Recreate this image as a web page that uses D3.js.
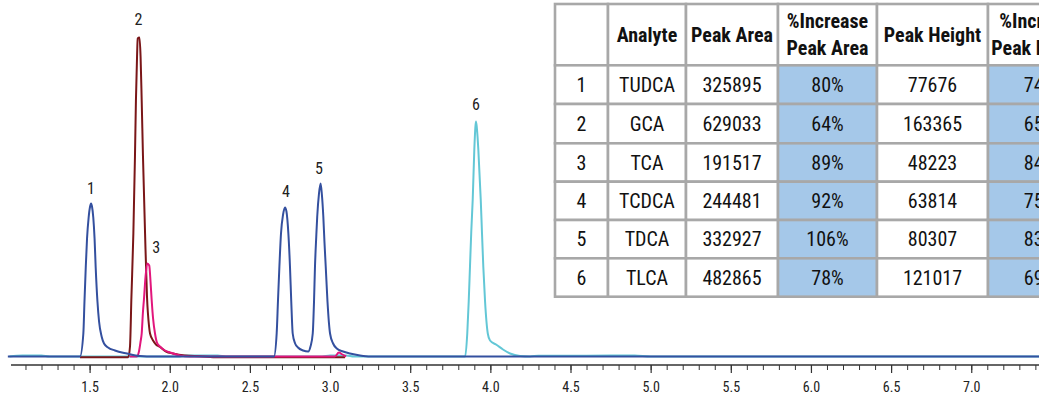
<!DOCTYPE html>
<html><head><meta charset="utf-8">
<script src="https://cdn.jsdelivr.net/npm/d3@7"></script>
<style>
html,body{margin:0;padding:0;background:#fff;overflow:hidden}
svg{display:block}
</style></head>
<body><svg id="c" width="1039" height="395"></svg>
<script>
// ---- chromatogram traces: [retention time (min), intensity (a.u.)] ----
const blueTrace = [
 [0.99,0],[1.44,0],[1.461,23],[1.468,55],[1.476,89],[1.484,118],[1.494,139],[1.503,150],[1.509,153],
 [1.515,150],[1.523,139],[1.531,118],[1.538,89],[1.549,55],[1.559,35],[1.575,20],[1.59,13],[1.615,9],
 [1.658,6],[1.733,3],[1.814,0.5],[1.9,0],[2.65,0],
 [2.667,23],[2.675,55],[2.684,90],[2.694,123],[2.707,142],[2.719,149],[2.728,145],[2.74,123],[2.75,90],
 [2.758,55],[2.767,23],[2.782,13],[2.8,9],[2.832,6],[2.864,5],[2.878,10],[2.892,23],[2.9,55],[2.906,90],
 [2.914,120],[2.92,140],[2.931,163],[2.941,173],[2.949,162],[2.958,140],[2.965,115],[2.973,90],[2.984,55],
 [3.0,23],[3.019,13],[3.042,8],[3.081,5],[3.124,3],[3.187,1],[3.25,0],[7.45,0]
];
const darkRedTrace = [
 [1.44,-0.8],[1.741,-0.8],[1.752,10],[1.761,60],[1.773,123],[1.783,200],[1.789,256],[1.796,300],[1.8,318],
 [1.811,319],[1.818,300],[1.825,256],[1.833,200],[1.846,123],[1.858,60],[1.871,30],[1.877,23],[1.896,16],
 [1.914,12],[1.939,9.5],[1.977,5],[2.02,3],[2.095,1],[2.189,0.3],[2.3,-0.8],[3.093,-0.8]
];
const magentaTrace = [
 [1.75,0],[1.794,0],[1.808,5],[1.818,15],[1.825,23],[1.833,45],[1.839,57],[1.849,80],[1.86,93],[1.872,91],
 [1.88,75],[1.887,57],[1.896,38],[1.908,23],[1.92,14],[1.939,10],[1.97,6],[2.002,4],[2.064,1],[2.126,0],
 [3.03,0],[3.055,4],[3.077,2],[3.1,0]
];
const cyanTrace = [
 [1.0,0],[1.08,1],[1.2,1],[1.25,0],[2.05,0],[2.1,1],[2.3,1],[2.35,0],[2.95,0],[3.0,1],[3.1,1],[3.15,0],
 [3.843,0],[3.856,23],[3.865,55],[3.873,90],[3.881,125],[3.89,157],[3.9,207],[3.906,228],[3.91,235],
 [3.915,230],[3.92,220],[3.925,207],[3.94,157],[3.948,123],[3.956,90],[3.967,55],[3.984,23],[3.998,16],
 [4.04,11.5],[4.079,7],[4.123,3],[4.185,0.5],[4.248,0],[4.3,0.8],[4.6,0.8],[4.9,1],[5.0,0],[7.45,0]
];
// ---- peak labels ----
const peakIds   = ["1","2","3","4","5","6"];
const peakTimes = [1.508, 1.805, 1.915, 2.725, 2.93, 3.91];
const peakLabelLevel = [163, 332, 104, 160, 183, 247];
// ---- axis ticks ----
const majorTicks = [1.5,2.0,2.5,3.0,3.5,4.0,4.5,5.0,5.5,6.0,6.5,7.0];
// ---- table ----
const tableHeaders = [[""],["Analyte"],["Peak Area"],["%Increase","Peak Area"],["Peak Height"],["%Increase","Peak Height"]];
const rowIds     = ["1","2","3","4","5","6"];
const analytes   = ["TUDCA","GCA","TCA","TCDCA","TDCA","TLCA"];
const peakAreas  = ["325895","629033","191517","244481","332927","482865"];
const pctArea    = ["80%","64%","89%","92%","106%","78%"];
const peakHeights= ["77676","163365","48223","63814","80307","121017"];
const pctHeight  = ["74%","65%","84%","75%","83%","69%"];

const FONT = "'Liberation Sans Narrow','Roboto Condensed','DejaVu Sans Condensed','Arial Narrow',sans-serif";
const svg = d3.select("#c");

const x = d3.scaleLinear().domain([1.5, 7.0]).range([89.6, 89.6 + 5.5*160.3]);
const y = d3.scaleLinear().domain([0, 340]).range([356.5, 16.5]);

const line = d3.line().x(d=>x(d[0])).y(d=>y(d[1])).curve(d3.curveMonotoneX);

const traces = [
  {data: cyanTrace, color: "#63c7d6"},
  {data: darkRedTrace, color: "#7a1618"},
  {data: magentaTrace, color: "#e2167c"},
  {data: blueTrace, color: "#34509f"}
];
svg.append("g").selectAll("path").data(traces).join("path")
  .attr("d", d=>line(d.data)).attr("fill","none")
  .attr("stroke", d=>d.color).attr("stroke-width", 2).attr("stroke-linejoin","round");

svg.append("g").selectAll("text").data(peakIds).join("text")
  .attr("x",(d,i)=>x(peakTimes[i])).attr("y",(d,i)=>y(peakLabelLevel[i]))
  .attr("text-anchor","middle").attr("font-family",FONT).attr("font-size",16).attr("fill","#222")
  .text(d=>d);

// axis
const axisY = 365;
const minorTicks = d3.range(11, 75).map(v=>v/10);
const gMinor = svg.append("g").attr("transform",`translate(0,${axisY})`)
  .call(d3.axisBottom(x).tickValues(minorTicks).tickSize(5).tickFormat(""));
gMinor.select(".domain").remove();
gMinor.selectAll("line").attr("stroke","#333").attr("stroke-width",1);
const gMajor = svg.append("g").attr("transform",`translate(0,${axisY})`)
  .call(d3.axisBottom(x).tickValues(majorTicks).tickSize(8).tickPadding(9).tickFormat(d3.format(".1f")));
gMajor.select(".domain").remove();
gMajor.selectAll("line").attr("stroke","#333").attr("stroke-width",1.2);
gMajor.selectAll("text").attr("font-family",FONT).attr("font-size",14).attr("fill","#222");
svg.append("line").attr("x1",11).attr("x2",1039).attr("y1",axisY).attr("y2",axisY)
  .attr("stroke","#333").attr("stroke-width",1.5);

// table
const colEdges = [555, 608, 686, 778, 877, 988, 1092];
const rowEdges = [4, 65.3, 104, 143.3, 181.7, 220, 258.3, 296.7];
const cols = [rowIds, analytes, peakAreas, pctArea, peakHeights, pctHeight];
const blueCols = [3,5];
const gT = svg.append("g");
const cells = [];
tableHeaders.forEach((h,c)=>cells.push({r:0,c,lines:h,bold:true}));
rowIds.forEach((id,r)=>cols.forEach((col,c)=>cells.push({r:r+1,c,lines:[col[r]],bold:false})));
gT.selectAll("rect").data(cells).join("rect")
  .attr("x",d=>colEdges[d.c]).attr("y",d=>rowEdges[d.r])
  .attr("width",d=>colEdges[d.c+1]-colEdges[d.c]).attr("height",d=>rowEdges[d.r+1]-rowEdges[d.r])
  .attr("fill",d=>(d.r>0 && blueCols.includes(d.c))?"#a5c8e9":"#fff")
  .attr("stroke","#a8a8a8").attr("stroke-width",2.6);
gT.selectAll("text").data(cells).join("text")
  .attr("x",d=>(colEdges[d.c]+colEdges[d.c+1])/2)
  .attr("y",d=>(rowEdges[d.r]+rowEdges[d.r+1])/2)
  .attr("text-anchor","middle").attr("font-family",FONT).attr("font-size",20)
  .attr("font-weight",d=>d.bold?"bold":"normal").attr("fill","#111")
  .each(function(d){
    const t = d3.select(this);
    const n = d.lines.length;
    d.lines.forEach((s,i)=>{
      t.append("tspan").attr("x",(colEdges[d.c]+colEdges[d.c+1])/2)
       .attr("dy", i===0 ? `${0.36 - (n-1)*0.68}em` : "1.36em").text(s);
    });
  });
</script></body></html>
